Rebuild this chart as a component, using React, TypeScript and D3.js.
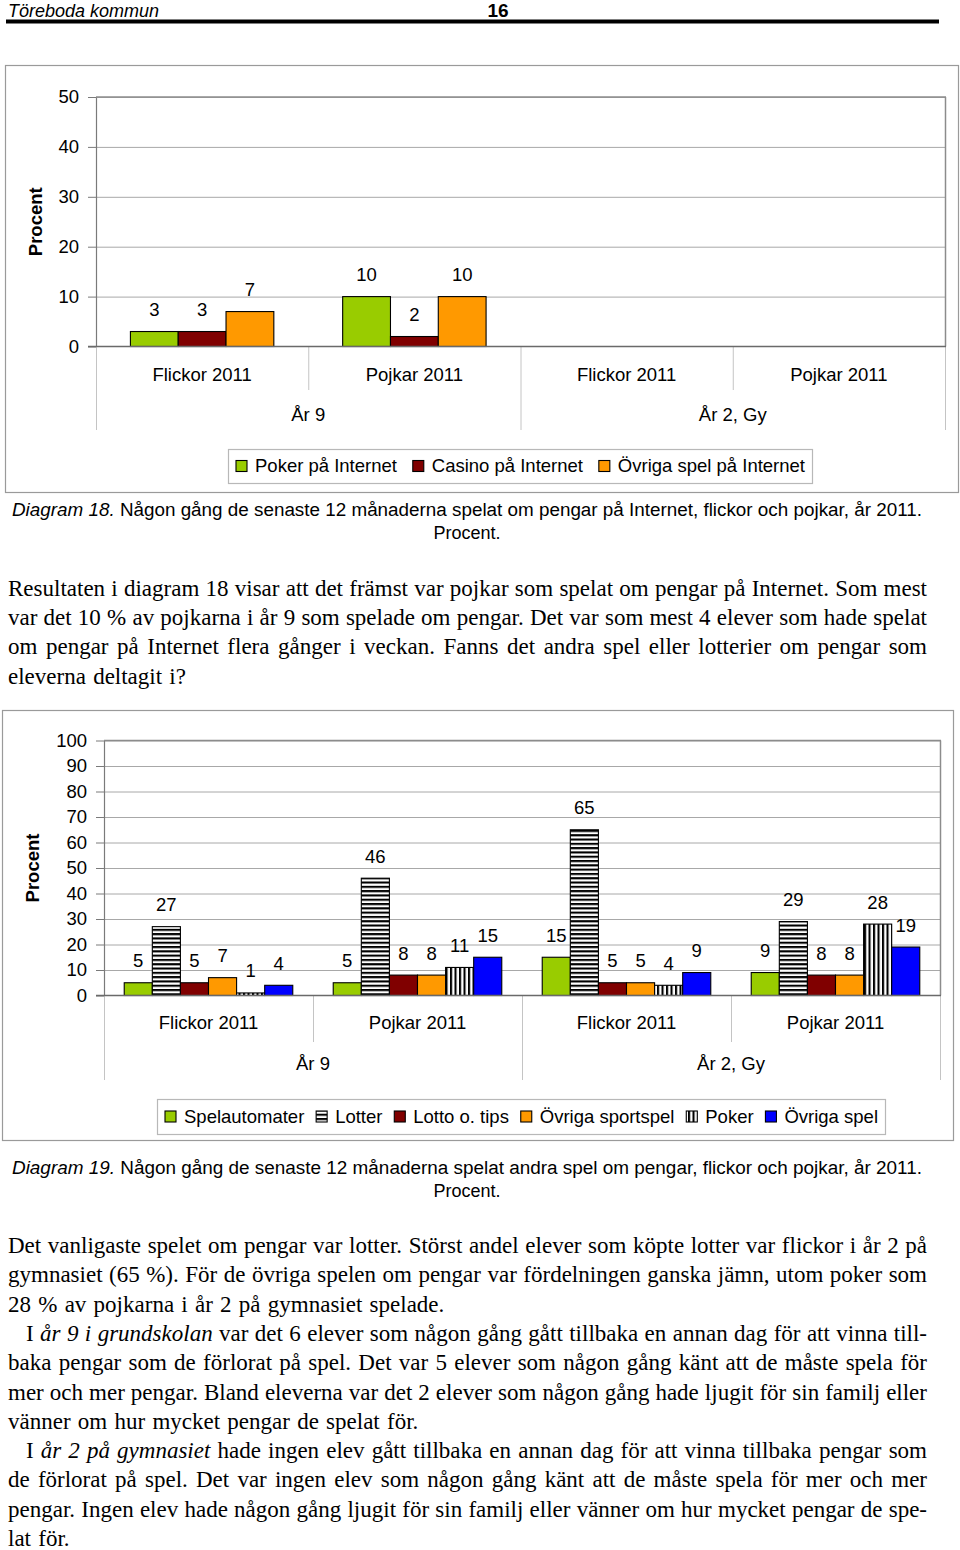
import React, { useEffect, useRef } from "react";
import * as d3 from "d3";

// ---------- DATA ----------
const categories = ["Flickor 2011", "Pojkar 2011", "Flickor 2011", "Pojkar 2011"];
const levels = ["År 9", "År 2, Gy"];

const series1Names = ["Poker på Internet", "Casino på Internet", "Övriga spel på Internet"];
const pokerInternet: (number | null)[] = [3, 10, null, null];
const casinoInternet: (number | null)[] = [3, 2, null, null];
const ovrigaInternet: (number | null)[] = [7, 10, null, null];
const ticks1 = [0, 10, 20, 30, 40, 50];

const series2Names = ["Spelautomater", "Lotter", "Lotto o. tips", "Övriga sportspel", "Poker", "Övriga spel"];
const spelautomater = [5, 5, 15, 9];
const lotter = [27, 46, 65, 29];
const lottoTips = [5, 8, 5, 8];
const ovrigaSportspel = [7, 8, 5, 8];
const poker = [1, 11, 4, 28];
const ovrigaSpel = [4, 15, 9, 19];
const ticks2 = [0, 10, 20, 30, 40, 50, 60, 70, 80, 90, 100];

const headerLeft = "Töreboda kommun";
const headerPage = "16";

const caption1 = ["Diagram 18.", " Någon gång de senaste 12 månaderna spelat om pengar på Internet, flickor och pojkar, år 2011."];
const caption2 = ["Diagram 19.", " Någon gång de senaste 12 månaderna spelat andra spel om pengar, flickor och pojkar, år 2011."];
const captionTail = "Procent.";

type Seg = [string, boolean];
type Line = { segs: Seg[]; justify: boolean; indent: boolean };

const body1: Line[] = [
  { segs: [["Resultaten i diagram 18 visar att det främst var pojkar som spelat om pengar på Internet. Som mest", false]], justify: true, indent: false },
  { segs: [["var det 10 % av pojkarna i år 9 som spelade om pengar. Det var som mest 4 elever som hade spelat", false]], justify: true, indent: false },
  { segs: [["om pengar på Internet flera gånger i veckan. Fanns det andra spel eller lotterier om pengar som", false]], justify: true, indent: false },
  { segs: [["eleverna deltagit i?", false]], justify: false, indent: false },
];

const body2: Line[] = [
  { segs: [["Det vanligaste spelet om pengar var lotter. Störst andel elever som köpte lotter var flickor i år 2 på", false]], justify: true, indent: false },
  { segs: [["gymnasiet (65 %). För de övriga spelen om pengar var fördelningen ganska jämn, utom poker som", false]], justify: true, indent: false },
  { segs: [["28 % av pojkarna i år 2 på gymnasiet spelade.", false]], justify: false, indent: false },
  { segs: [["I ", false], ["år 9 i grundskolan", true], [" var det 6 elever som någon gång gått tillbaka en annan dag för att vinna till-", false]], justify: true, indent: true },
  { segs: [["baka pengar som de förlorat på spel. Det var 5 elever som någon gång känt att de måste spela för", false]], justify: true, indent: false },
  { segs: [["mer och mer pengar. Bland eleverna var det 2 elever som någon gång hade ljugit för sin familj eller", false]], justify: true, indent: false },
  { segs: [["vänner om hur mycket pengar de spelat för.", false]], justify: false, indent: false },
  { segs: [["I ", false], ["år 2 på gymnasiet", true], [" hade ingen elev gått tillbaka en annan dag för att vinna tillbaka pengar som", false]], justify: true, indent: true },
  { segs: [["de förlorat på spel. Det var ingen elev som någon gång känt att de måste spela för mer och mer", false]], justify: true, indent: false },
  { segs: [["pengar. Ingen elev hade någon gång ljugit för sin familj eller vänner om hur mycket pengar de spe-", false]], justify: true, indent: false },
  { segs: [["lat för.", false]], justify: false, indent: false },
];

// ---------- STYLE ----------
const SANS = "'Liberation Sans', Arial, sans-serif";
const SERIF = "'Liberation Serif', 'Times New Roman', serif";
const GREEN = "#99cc00";
const DARKRED = "#800000";
const ORANGE = "#ff9900";
const BLUE = "#0000ff";

type Series = { name: string; values: (number | null)[]; fill: string };

type ChartCfg = {
  frame: [number, number, number, number];
  left: number;
  right: number;
  top: number;
  zero: number;
  max: number;
  ticks: number[];
  series: Series[];
  procentX: number;
  catY: number;
  levelY: number;
  innerDivBottom: number;
  outerDivBottom: number;
  legendY: number;
  legendH: number;
  legendCX: number;
  legendW: number;
  caption: string[];
  captionY: number;
};

function drawChart(svg: d3.Selection<SVGSVGElement, unknown, null, undefined>, cfg: ChartCfg) {
  const g = svg.append("g");
  const [fx, fy, fw, fh] = cfg.frame;
  g.append("rect")
    .attr("x", fx + 0.5).attr("y", fy + 0.5).attr("width", fw).attr("height", fh)
    .attr("fill", "#fff").attr("stroke", "#9a9a9a").attr("stroke-width", 1.2);

  const x = d3.scaleBand<number>().domain(d3.range(categories.length)).range([cfg.left, cfg.right]).padding(0);
  const xi = d3.scaleBand<number>().domain(d3.range(cfg.series.length)).range([0, x.bandwidth()]).paddingInner(0).paddingOuter(0.72);
  const y = d3.scaleLinear().domain([0, cfg.max]).range([cfg.zero, cfg.top]);

  // gridlines
  const grid = g.append("g").attr("transform", `translate(${cfg.left},0)`)
    .call(d3.axisLeft(y).tickValues(cfg.ticks.filter((t) => t > 0)).tickSize(-(cfg.right - cfg.left)).tickFormat(() => ""));
  grid.select(".domain").remove();
  grid.selectAll("line").attr("stroke", "#a8a8a8").attr("stroke-width", 1);
  // plot border (top & right)
  g.append("line").attr("x1", cfg.right + 0.5).attr("x2", cfg.right + 0.5).attr("y1", cfg.top).attr("y2", cfg.zero)
    .attr("stroke", "#8c8c8c").attr("stroke-width", 1.5);
  g.append("line").attr("x1", cfg.left).attr("x2", cfg.right + 1).attr("y1", cfg.top).attr("y2", cfg.top)
    .attr("stroke", "#8c8c8c").attr("stroke-width", 1.5);

  // category dividers
  const divs = d3.range(categories.length + 1);
  g.selectAll(".div").data(divs).enter().append("line")
    .attr("x1", (d) => (d === categories.length ? cfg.right + 0.5 : (x(d) as number) + 0.5))
    .attr("x2", (d) => (d === categories.length ? cfg.right + 0.5 : (x(d) as number) + 0.5))
    .attr("y1", cfg.zero)
    .attr("y2", (d) => (d % 2 === 0 ? cfg.outerDivBottom : cfg.innerDivBottom))
    .attr("stroke", "#c4c4c4").attr("stroke-width", 1);

  // left axis
  const axis = g.append("g").attr("transform", `translate(${cfg.left},0)`)
    .call(d3.axisLeft(y).tickValues(cfg.ticks).tickSizeInner(8).tickSizeOuter(0).tickPadding(9).tickFormat(d3.format("d")));
  axis.select(".domain").attr("stroke", "#7a7a7a").attr("stroke-width", 1.2);
  axis.selectAll("line").attr("stroke", "#7a7a7a");
  axis.selectAll("text").attr("font-family", SANS).attr("font-size", 18.5).attr("fill", "#000").attr("dy", "0.3em");

  // bars
  cfg.series.forEach((s, si) => {
    const valid = s.values.map((v, i) => ({ v, i })).filter((d) => d.v !== null) as { v: number; i: number }[];
    g.selectAll(`.bar${si}`).data(valid).enter().append("rect")
      .attr("x", (d) => (x(d.i) as number) + (xi(si) as number))
      .attr("y", (d) => y(d.v))
      .attr("width", xi.bandwidth())
      .attr("height", (d) => cfg.zero - y(d.v))
      .attr("fill", s.fill).attr("stroke", "#000").attr("stroke-width", 1.1);
  });

  // baseline
  g.append("line").attr("x1", cfg.left - 8).attr("x2", cfg.right + 1).attr("y1", cfg.zero).attr("y2", cfg.zero)
    .attr("stroke", "#6a6a6a").attr("stroke-width", 1.3);

  // data labels
  cfg.series.forEach((s, si) => {
    const valid = s.values.map((v, i) => ({ v, i })).filter((d) => d.v !== null) as { v: number; i: number }[];
    g.selectAll(`.lab${si}`).data(valid).enter().append("text")
      .attr("x", (d) => (x(d.i) as number) + (xi(si) as number) + xi.bandwidth() / 2)
      .attr("y", (d) => y(d.v) - 15.5)
      .attr("text-anchor", "middle").attr("font-family", SANS).attr("font-size", 18.5)
      .text((d) => String(d.v));
  });

  // Procent
  g.append("text")
    .attr("transform", `translate(${cfg.procentX},${(cfg.top + cfg.zero) / 2}) rotate(-90)`)
    .attr("text-anchor", "middle").attr("dy", "0.35em")
    .attr("font-family", SANS).attr("font-weight", "bold").attr("font-size", 18.5)
    .text("Procent");

  // category labels
  g.selectAll(".cat").data(categories).enter().append("text")
    .attr("x", (_d, i) => (x(i) as number) + x.bandwidth() / 2)
    .attr("y", cfg.catY).attr("dy", "0.35em")
    .attr("text-anchor", "middle").attr("font-family", SANS).attr("font-size", 18.5)
    .text((d) => d);
  g.selectAll(".lvl").data(levels).enter().append("text")
    .attr("x", (_d, i) => (x(i * 2) as number) + x.bandwidth())
    .attr("y", cfg.levelY).attr("dy", "0.35em")
    .attr("text-anchor", "middle").attr("font-family", SANS).attr("font-size", 18.5)
    .text((d) => d);

  // legend
  const lg = g.append("g");
  const box = lg.append("rect").attr("fill", "#fff").attr("stroke", "#b8b8b8").attr("stroke-width", 1.2);
  const items: { sw: any; t: any; w: number }[] = [];
  cfg.series.forEach((s) => {
    const sw = lg.append("rect").attr("y", cfg.legendY + cfg.legendH / 2 - 5.5)
      .attr("width", 11).attr("height", 11).attr("fill", s.fill).attr("stroke", "#000").attr("stroke-width", 1.1);
    const t = lg.append("text").attr("y", cfg.legendY + cfg.legendH / 2).attr("dy", "0.35em")
      .attr("font-family", SANS).attr("font-size", 18.5).text(s.name);
    const w = (t.node() as SVGTextElement).getComputedTextLength();
    items.push({ sw, t, w });
  });
  const padL = 8, padR = 7, swGap = 19;
  const textSum = d3.sum(items, (d) => d.w) + items.length * swGap;
  const gap = (cfg.legendW - padL - padR - textSum) / (items.length - 1);
  let cx = padL;
  items.forEach((it) => {
    it.sw.attr("x", cx);
    it.t.attr("x", cx + swGap);
    cx += swGap + it.w + gap;
  });
  box.attr("x", 0.5).attr("y", cfg.legendY + 0.5).attr("width", cfg.legendW).attr("height", cfg.legendH);
  lg.attr("transform", `translate(${Math.round(cfg.legendCX - cfg.legendW / 2)},0)`);

  // caption
  const cap = svg.append("text").attr("x", 467).attr("y", cfg.captionY).attr("text-anchor", "middle")
    .attr("font-family", SANS).attr("font-size", 18).attr("textLength", 910).attr("lengthAdjust", "spacingAndGlyphs");
  cap.append("tspan").attr("font-style", "italic").text(cfg.caption[0]);
  cap.append("tspan").text(cfg.caption[1]);
  svg.append("text").attr("x", 467).attr("y", cfg.captionY + 23).attr("text-anchor", "middle")
    .attr("font-family", SANS).attr("font-size", 18).text(captionTail);
}

function drawBody(svg: d3.Selection<SVGSVGElement, unknown, null, undefined>, lines: Line[], y0: number, step: number) {
  lines.forEach((ln, i) => {
    const x0 = ln.indent ? 26 : 8;
    const t = svg.append("text").attr("x", x0).attr("y", y0 + i * step)
      .attr("font-family", SERIF).attr("font-size", 23).attr("fill", "#000");
    ln.segs.forEach(([s, it]) => {
      const sp = t.append("tspan").text(s);
      if (it) sp.attr("font-style", "italic");
    });
    const txt = ln.segs.map((s) => s[0]).join("");
    const spaces = (txt.match(/ /g) || []).length;
    if (ln.justify) {
      const node = t.node() as SVGTextElement;
      const w = node.getComputedTextLength();
      if (spaces > 0) t.attr("word-spacing", (927 - x0 - w) / spaces);
    } else {
      t.attr("word-spacing", 1.5);
    }
  });
}

export default function App() {
  const ref = useRef<SVGSVGElement>(null);
  useEffect(() => {
    if (!ref.current) return;
    const svg = d3.select(ref.current);
    svg.selectAll("*").remove();

    // patterns
    const defs = svg.append("defs");
    const h = defs.append("pattern").attr("id", "hstripe").attr("patternUnits", "userSpaceOnUse").attr("width", 8).attr("height", 4.3);
    h.append("rect").attr("width", 8).attr("height", 4.3).attr("fill", "#fff");
    h.append("rect").attr("width", 8).attr("height", 2.1).attr("fill", "#000");
    const v = defs.append("pattern").attr("id", "vstripe").attr("patternUnits", "userSpaceOnUse").attr("width", 4.5).attr("height", 8);
    v.append("rect").attr("width", 4.5).attr("height", 8).attr("fill", "#fff");
    v.append("rect").attr("width", 2.1).attr("height", 8).attr("fill", "#000");

    svg.append("rect").attr("width", 960).attr("height", 1550).attr("fill", "#fff");

    // header
    svg.append("text").attr("x", 8).attr("y", 16.5).attr("font-family", SANS).attr("font-style", "italic")
      .attr("font-size", 18).text(headerLeft);
    svg.append("text").attr("x", 498).attr("y", 16.5).attr("text-anchor", "middle").attr("font-family", SANS)
      .attr("font-weight", "bold").attr("font-size", 19).text(headerPage);
    svg.append("rect").attr("x", 6).attr("y", 19.5).attr("width", 933).attr("height", 4).attr("fill", "#000");

    drawChart(svg, {
      frame: [5, 65, 953, 427],
      left: 96, right: 945, top: 97, zero: 346.5, max: 50, ticks: ticks1,
      series: [
        { name: series1Names[0], values: pokerInternet, fill: GREEN },
        { name: series1Names[1], values: casinoInternet, fill: DARKRED },
        { name: series1Names[2], values: ovrigaInternet, fill: ORANGE },
      ],
      procentX: 36, catY: 375, levelY: 415, innerDivBottom: 390, outerDivBottom: 430,
      legendY: 449, legendH: 34, legendCX: 520, legendW: 584,
      caption: caption1, captionY: 516,
    });

    drawBody(svg, body1, 596, 29.2);

    drawChart(svg, {
      frame: [2, 710, 951, 430],
      left: 104, right: 940, top: 740.5, zero: 995.5, max: 100, ticks: ticks2,
      series: [
        { name: series2Names[0], values: spelautomater, fill: GREEN },
        { name: series2Names[1], values: lotter, fill: "url(#hstripe)" },
        { name: series2Names[2], values: lottoTips, fill: DARKRED },
        { name: series2Names[3], values: ovrigaSportspel, fill: ORANGE },
        { name: series2Names[4], values: poker, fill: "url(#vstripe)" },
        { name: series2Names[5], values: ovrigaSpel, fill: BLUE },
      ],
      procentX: 33, catY: 1023, levelY: 1064, innerDivBottom: 1042, outerDivBottom: 1080,
      legendY: 1099, legendH: 35, legendCX: 521, legendW: 728,
      caption: caption2, captionY: 1174,
    });

    drawBody(svg, body2, 1253, 29.3);
  }, []);
  return (
    <svg ref={ref} width={960} height={1550} style={{ position: "absolute", left: 0, top: 0, display: "block" }} />
  );
}
